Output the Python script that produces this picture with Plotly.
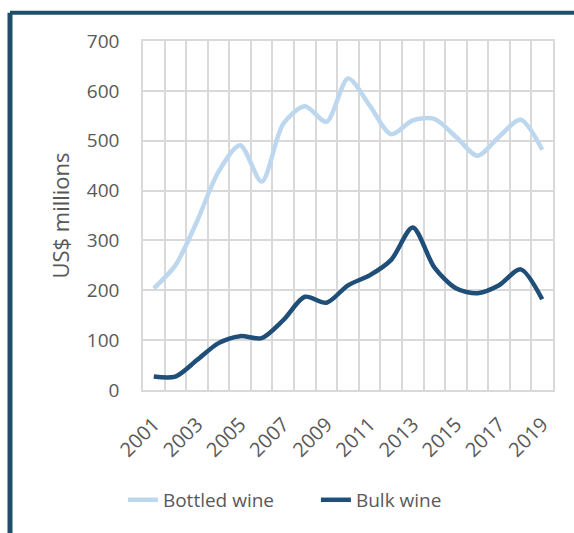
import plotly.graph_objects as go

# Wine export values, US$ millions
years = list(range(2001, 2020))
bottled_wine = [204, 250, 338, 438, 491, 418, 534, 569, 538, 625,
                571, 513, 541, 544, 508, 470, 508, 542, 482]
bulk_wine = [27, 27, 60, 94, 108, 104, 140, 187, 175, 210,
             230, 261, 326, 246, 204, 194, 210, 242, 182]
year_ticks = list(range(2001, 2020, 2))

TEXT = "#595959"
GRID = "#D9D9D9"
FRAME = "#1F4E6A"
FONT = "Open Sans"

fig = go.Figure()
fig.add_trace(go.Scatter(
    x=years, y=bottled_wine, name="Bottled wine", mode="lines",
    line=dict(color="#BDD7EE", width=4.5, shape="spline", smoothing=0.8),
))
fig.add_trace(go.Scatter(
    x=years, y=bulk_wine, name="Bulk wine", mode="lines",
    line=dict(color="#1F4E79", width=4.5, shape="spline", smoothing=0.8),
))

fig.update_layout(
    width=574, height=533,
    margin=dict(l=143, r=21, t=41, b=143),
    paper_bgcolor="white", plot_bgcolor="white",
    font=dict(family=FONT, color=TEXT, size=19),
    showlegend=True,
    legend=dict(
        orientation="h", x=-0.049, xanchor="left", y=-0.315, yanchor="middle",
        font=dict(size=19, color=TEXT), itemwidth=30, entrywidth=148,
        entrywidthmode="pixels", bgcolor="rgba(0,0,0,0)",
    ),
    xaxis=dict(
        range=[2000.5, 2019.5], tickmode="array", tickvals=year_ticks,
        ticktext=[str(y) for y in year_ticks], tickangle=-45,
        showgrid=False, zeroline=False, ticks="",
        showline=True, linecolor=GRID, linewidth=1.5, mirror=True,
        minor=dict(showgrid=True, tick0=2000.5, dtick=1,
                   gridcolor=GRID, gridwidth=1.5),
        tickfont=dict(size=20, color=TEXT), ticklabelstandoff=13,
        fixedrange=True,
    ),
    yaxis=dict(
        range=[0, 700], dtick=100, showgrid=True, gridcolor=GRID,
        gridwidth=1.5, zeroline=False, ticks="",
        showline=True, linecolor=GRID, linewidth=1.5, mirror=True,
        tickfont=dict(size=19, color=TEXT), ticklabelstandoff=18,
        title=dict(text="US$ millions", font=dict(size=22, color=TEXT),
                   standoff=11),
        fixedrange=True,
    ),
    shapes=[
        dict(type="line", xref="paper", yref="paper",
             x0=-0.3244, x1=1.2, y0=1.0807, y1=1.0807,
             line=dict(color=FRAME, width=4)),
        dict(type="line", xref="paper", yref="paper",
             x0=-0.3244, x1=-0.3244, y0=1.0807, y1=-0.6,
             line=dict(color=FRAME, width=5)),
    ],
    annotations=[
        dict(text="<b>(US$m)</b>", xref="paper", yref="paper",
             x=(337 - 143) / 410, y=(390 - 4) / 349.3,
             xanchor="center", yanchor="bottom", showarrow=False,
             font=dict(family=FONT, size=30, color="black")),
    ],
)

fig.write_html("out.html")
